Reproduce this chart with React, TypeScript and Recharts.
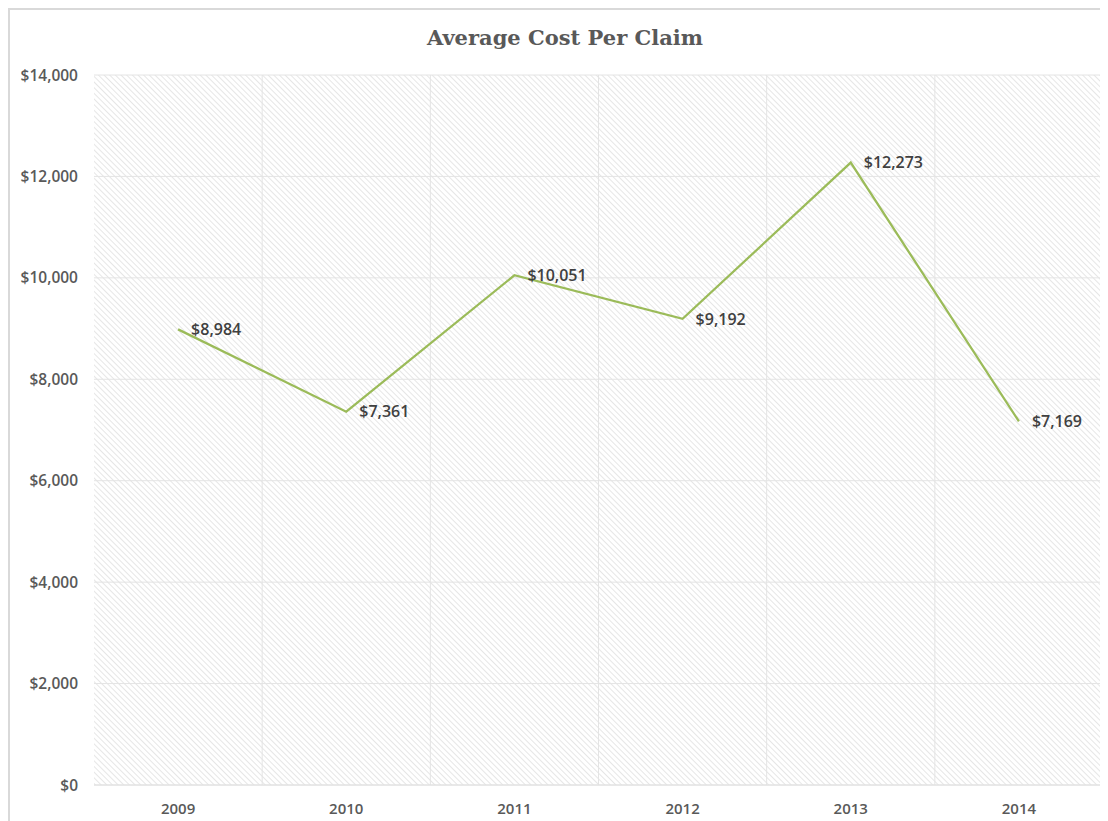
import React from "react";
import { LineChart, Line, XAxis, YAxis, CartesianGrid, LabelList } from "recharts";

const years = ["2009", "2010", "2011", "2012", "2013", "2014"];
const costs = [8984, 7361, 10051, 9192, 12273, 7169];
const yTicks = [0, 2000, 4000, 6000, 8000, 10000, 12000, 14000];

const data = years.map((y, i) => ({ year: y, cost: costs[i] }));

const fmt = (v: number) => "$" + v.toLocaleString("en-US");

const FONT = "'Open Sans', 'Noto Sans', sans-serif";

export default function App() {
  const vGen = (props: any) => {
    const off = props.offset;
    const n = years.length;
    const pts: number[] = [];
    for (let i = 1; i < n; i++) pts.push(off.left + (off.width * i) / n);
    return pts;
  };
  return (
    <div
      style={{
        position: "relative",
        width: 1100,
        height: 813,
        borderTop: "2px solid #d9d9d9",
        borderLeft: "2px solid #d9d9d9",
        boxSizing: "border-box",
        background: "#fff",
        overflow: "hidden",
      }}
    >
      <div
        style={{
          position: "absolute",
          left: 0,
          width: 1110,
          top: 15,
          textAlign: "center",
          fontFamily: "'DejaVu Serif', 'Liberation Serif', serif",
          fontWeight: "bold",
          fontSize: 21,
          color: "#595959",
        }}
      >
        Average Cost Per Claim
      </div>
      <LineChart
        width={1098}
        height={811}
        data={data}
        margin={{ top: 65, right: 5, left: 0, bottom: 0 }}
      >
        <defs>
          <pattern
            id="hatch"
            patternUnits="userSpaceOnUse"
            width={4}
            height={4}
            patternTransform="rotate(-45)"
          >
            <rect width={4} height={4} fill="#ffffff" />
            <line x1={0} y1={0} x2={0} y2={4} stroke="#d9d9d9" strokeWidth={1.3} />
          </pattern>
        </defs>
        <CartesianGrid
          fill="url(#hatch)"
          stroke="#e4e4e4"
          verticalCoordinatesGenerator={vGen}
        />
        <XAxis
          dataKey="year"
          scale="band"
          tickLine={false}
          axisLine={{ stroke: "#e0e0e0" }}
          height={36}
          tickMargin={12}
          tick={{ fill: "#595959", fontSize: 15, fontFamily: FONT, fontWeight: 600 }}
        />
        <YAxis
          domain={[0, 14000]}
          ticks={yTicks}
          width={84}
          tickLine={false}
          axisLine={false}
          tickMargin={10}
          tickFormatter={fmt}
          tick={{ fill: "#595959", fontSize: 15.5, fontFamily: FONT, fontWeight: 600 }}
        />
        <Line
          dataKey="cost"
          stroke="#9bbb59"
          strokeWidth={2.25}
          dot={false}
          isAnimationActive={false}
        >
          <LabelList
            dataKey="cost"
            position="right"
            offset={13}
            formatter={(v: any) => fmt(Number(v))}
            style={{ fill: "#404040", fontSize: 16, fontFamily: FONT, fontWeight: 600 }}
          />
        </Line>
      </LineChart>
    </div>
  );
}
